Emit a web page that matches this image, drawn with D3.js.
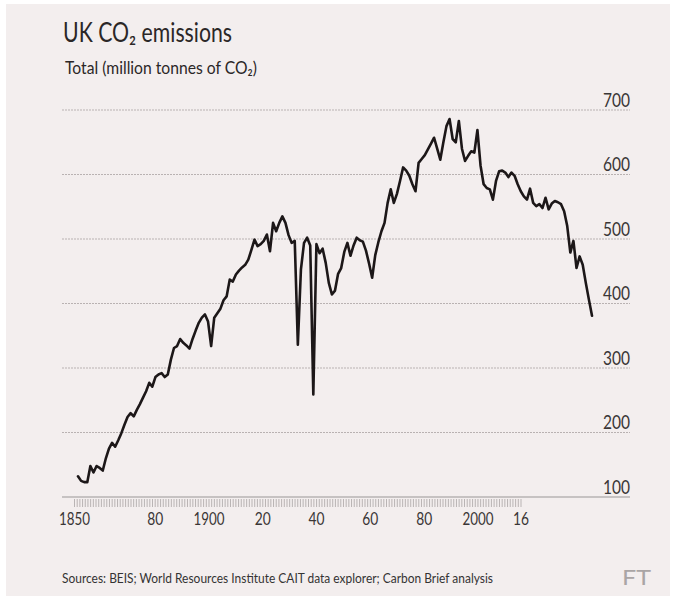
<!DOCTYPE html>
<html>
<head>
<meta charset="utf-8">
<script src="https://cdn.jsdelivr.net/npm/d3@7"></script>
<style>
  html, body { margin: 0; padding: 0; background: #ffffff; }
  svg { display: block; }
  text { font-family: Lato, "Open Sans", sans-serif; }
</style>
</head>
<body>
<svg id="chart" width="676" height="600"></svg>
<script>
// ---- Data ----
const startYear = 1850;
const emissions = [
  132, 125, 123, 123, 148, 138, 148, 145, 141, 160,   // 1850-1859
  175, 184, 178, 188, 199, 212, 224, 230, 225, 235,   // 1860-1869
  244, 254, 264, 277, 271, 286, 290, 292, 286, 290,   // 1870-1879
  313, 331, 334, 345, 339, 335, 330, 345, 358, 370,   // 1880-1889
  378, 383, 372, 334, 378, 385, 392, 405, 411, 437,   // 1890-1899
  434, 445, 451, 456, 460, 468, 483, 499, 489, 492,   // 1900-1909
  497, 507, 481, 525, 512, 525, 535, 525, 506, 494,   // 1910-1919
  497, 336, 453, 494, 502, 490, 259, 492, 478, 485,   // 1920-1929
  463, 432, 414, 420, 446, 455, 480, 494, 474, 490,   // 1930-1939
  502, 498, 496, 482, 462, 440, 475, 495, 512, 525,   // 1940-1949
  556, 577, 556, 570, 590, 611, 606, 598, 585, 574,   // 1950-1959
  618, 624, 630, 639, 648, 657, 640, 623, 650, 675,   // 1960-1969
  686, 655, 650, 683, 640, 621, 629, 636, 634, 669,   // 1970-1979
  614, 585, 579, 577, 561, 590, 605, 606, 603, 596,   // 1980-1989
  603, 598, 585, 574, 566, 561, 578, 556, 551, 554,   // 1990-1999
  548, 564, 546, 555, 559, 557, 554, 543, 520, 479,   // 2000-2009
  497, 455, 473, 460, 432, 406, 381                   // 2010-2016
];
const years = emissions.map((_, i) => startYear + i);

const yTicks = [100, 200, 300, 400, 500, 600, 700];
const xTickValues = [1850, 1880, 1900, 1920, 1940, 1960, 1980, 2000, 2016];
const xTickLabels = ["1850", "80", "1900", "20", "40", "60", "80", "2000", "16"];

const titleText = "UK CO\u2082 emissions";
const subtitleText = "Total (million tonnes of CO\u2082)";
const sourceText = "Sources: BEIS; World Resources Institute CAIT data explorer; Carbon Brief analysis";

// ---- Layout ----
const svg = d3.select("#chart");
const W = 676, H = 600;

svg.append("rect").attr("x", 6).attr("y", 4).attr("width", W - 12).attr("height", H - 8)
  .attr("fill", "#f3eeee");

const xLine = d3.scaleLinear().domain([1850, 2016]).range([78, 592]);
const xAxisScale = d3.scaleLinear().domain([1850, 2016]).range([74.5, 521]);
const y = d3.scaleLinear().domain([100, 700]).range([497, 110]);

const gridLeft = 62, gridRight = 630;

// Gridlines
svg.append("g").selectAll("line").data(yTicks.filter(d => d !== 100)).join("line")
  .attr("x1", gridLeft).attr("x2", gridRight)
  .attr("y1", d => y(d)).attr("y2", d => y(d))
  .attr("stroke", "#b9b2b2").attr("stroke-width", 1).attr("stroke-dasharray", "2,1");

// Baseline
svg.append("line").attr("x1", gridLeft).attr("x2", gridRight)
  .attr("y1", y(100)).attr("y2", y(100))
  .attr("stroke", "#9a9595").attr("stroke-width", 1.2);

// Y labels
svg.append("g").selectAll("text").data(yTicks).join("text")
  .attr("x", 603).attr("y", d => y(d) - 3.5)
  .attr("font-size", 19).attr("fill", "#3a3636")
  .attr("textLength", 27).attr("lengthAdjust", "spacingAndGlyphs")
  .text(d => d);

// X axis yearly ticks
const yearTicks = d3.range(1850, 2017);
svg.append("g").selectAll("line").data(yearTicks).join("line")
  .attr("x1", d => xAxisScale(d)).attr("x2", d => xAxisScale(d))
  .attr("y1", 499).attr("y2", 507)
  .attr("stroke", "#aaa4a4").attr("stroke-width", 0.8);

// X labels
svg.append("g").selectAll("text").data(xTickValues).join("text")
  .attr("x", d => xAxisScale(d)).attr("y", 525)
  .attr("text-anchor", "middle")
  .attr("font-size", 18).attr("fill", "#3a3636")
  .attr("textLength", (d, i) => xTickLabels[i].length === 4 ? 31 : 16)
  .attr("lengthAdjust", "spacingAndGlyphs")
  .text((d, i) => xTickLabels[i]);

// Line
const line = d3.line().x((d, i) => xLine(years[i])).y(d => y(d));
svg.append("path").datum(emissions)
  .attr("d", line)
  .attr("fill", "none").attr("stroke", "#1c1718")
  .attr("stroke-width", 2.6).attr("stroke-linejoin", "round").attr("stroke-linecap", "round");

// Title
svg.append("text").attr("x", 63).attr("y", 42).attr("font-size", 26).attr("fill", "#2b2727")
  .attr("textLength", 169).attr("lengthAdjust", "spacingAndGlyphs").text(titleText);

// Subtitle
svg.append("text").attr("x", 65).attr("y", 74).attr("font-size", 18).attr("fill", "#2b2727")
  .attr("textLength", 192).attr("lengthAdjust", "spacingAndGlyphs").text(subtitleText);

// Source
svg.append("text").attr("x", 62).attr("y", 583).attr("font-size", 13).attr("fill", "#333")
  .attr("textLength", 431).attr("lengthAdjust", "spacingAndGlyphs")
  .text(sourceText);

// FT logo
svg.append("text").attr("x", 622).attr("y", 585)
  .attr("font-family", "'DejaVu Serif', 'Liberation Serif', serif")
  .attr("font-size", 22).attr("fill", "#aaa5a5")
  .attr("textLength", 29).attr("lengthAdjust", "spacingAndGlyphs")
  .text("FT");
</script>
</body>
</html>
